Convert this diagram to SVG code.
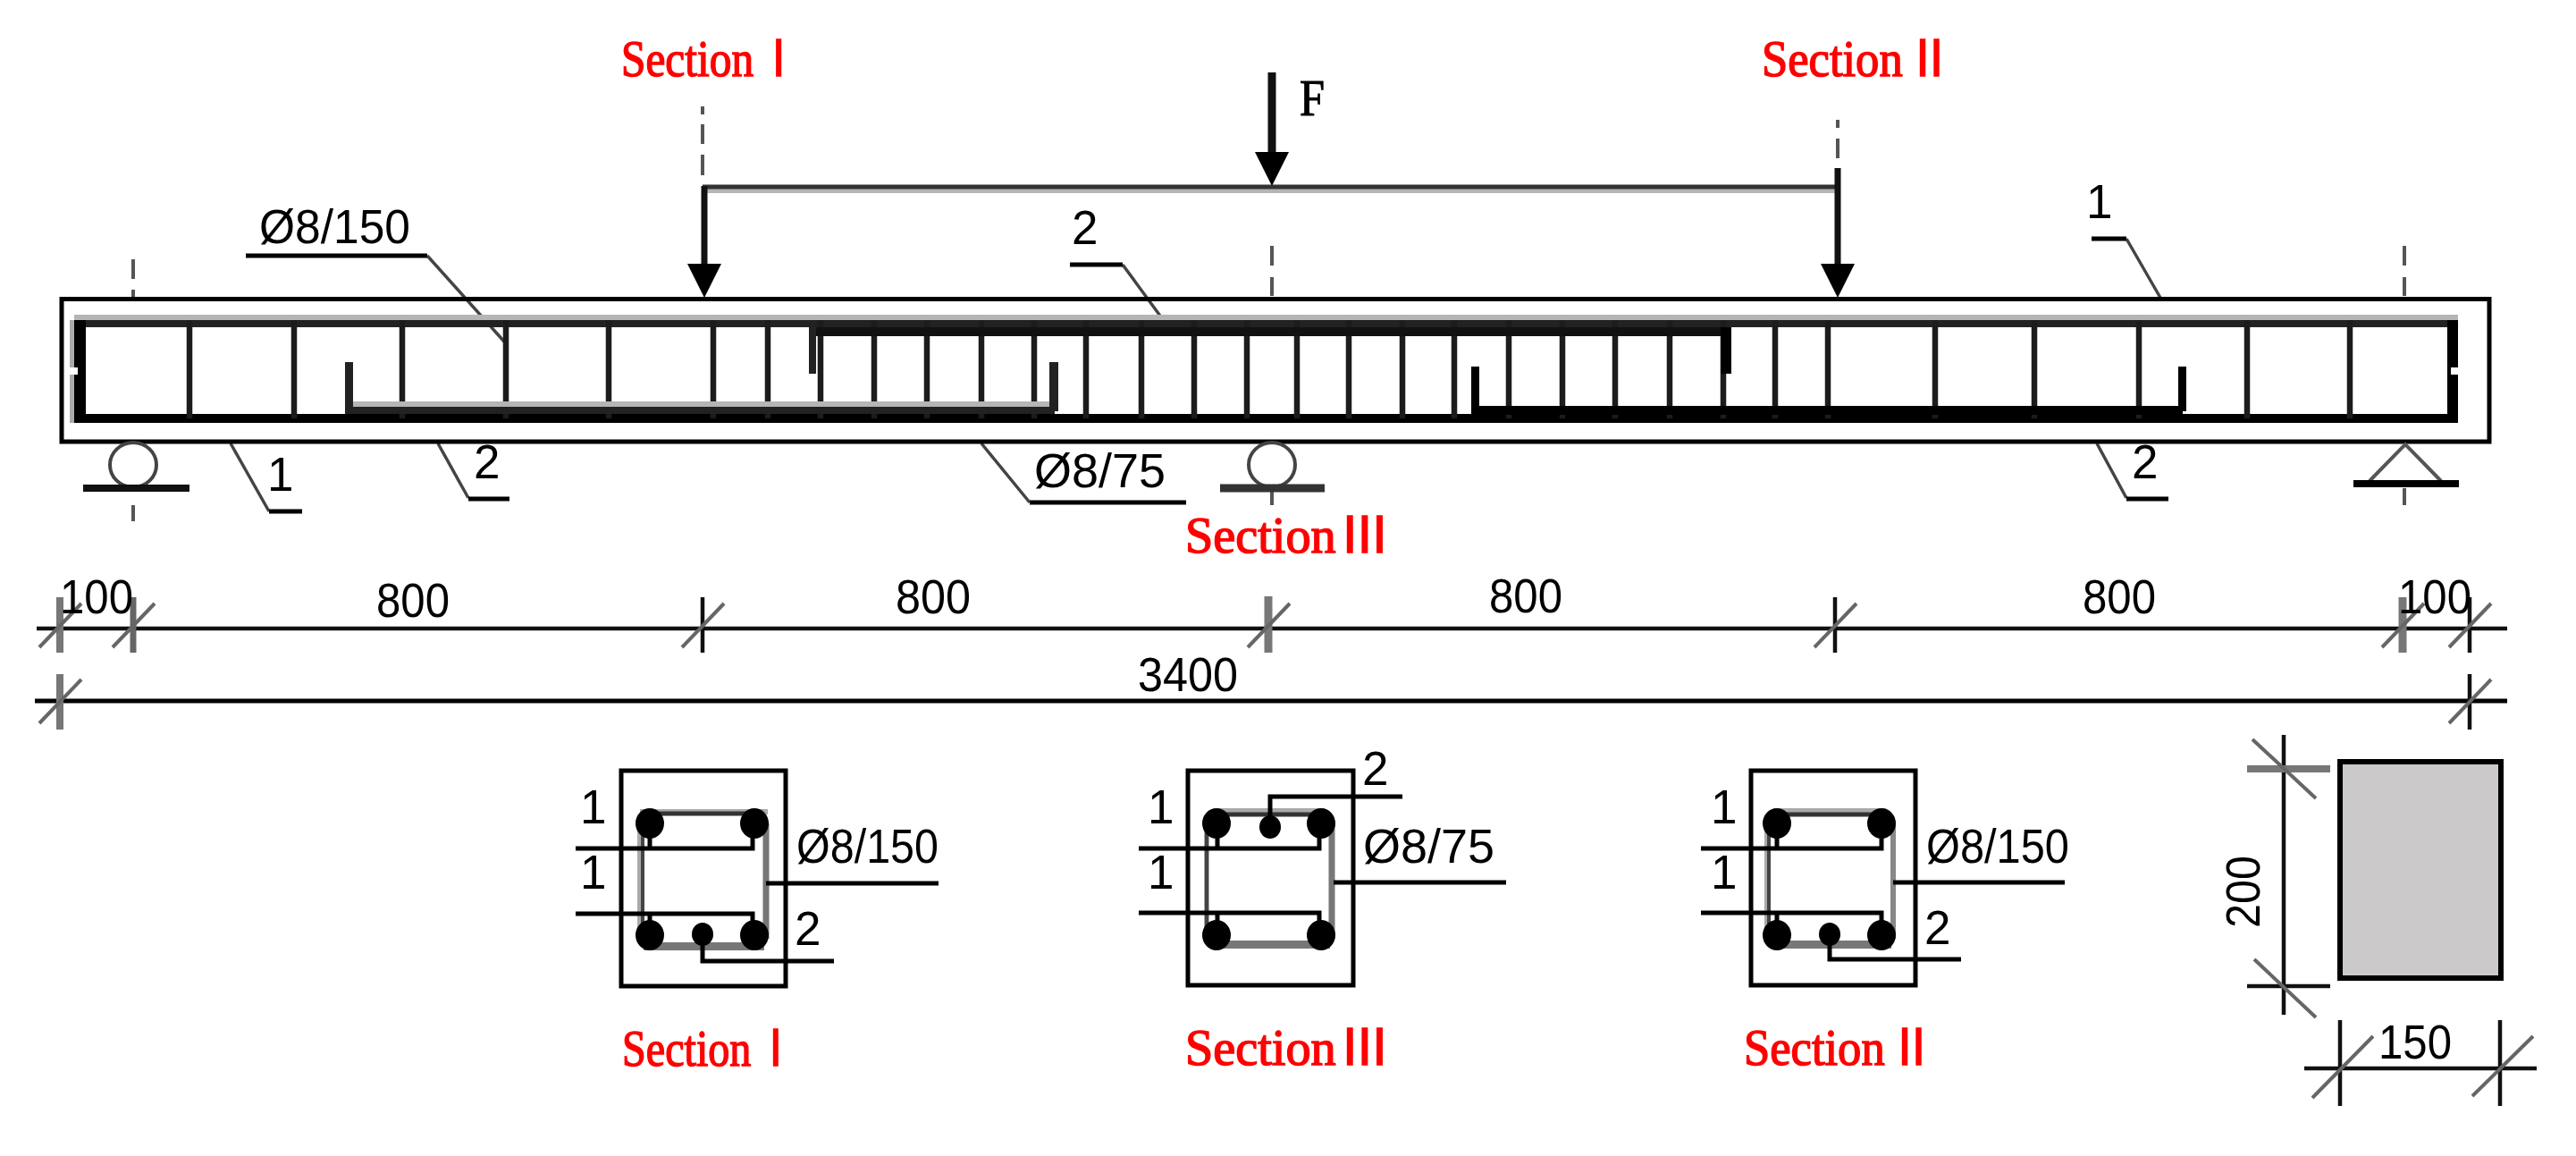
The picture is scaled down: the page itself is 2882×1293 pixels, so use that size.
<svg xmlns="http://www.w3.org/2000/svg" width="2882" height="1293" viewBox="0 0 2882 1293">
<style>
.bg{fill:#fff}
.l{fill:none;stroke:#000;stroke-width:5}
.thin{fill:none;stroke:#444;stroke-width:3.5}
.tick{fill:none;stroke:#111;stroke-width:4.5}
.slash{fill:none;stroke:#666;stroke-width:4}
.dash{fill:none;stroke:#555;stroke-width:4}
.gray{fill:none;stroke:#aaa;stroke-width:6}
.dot{fill:#000}
.t{font-family:"Liberation Sans",Arial,sans-serif;font-size:53px;fill:#000}
.s{font-family:"Liberation Serif","Noto Sans CJK SC",serif;font-size:56px;fill:#f00;stroke:#f00;stroke-width:1.5px;word-spacing:-10px}
.f{font-family:"Liberation Serif",serif;font-size:56px;fill:#000;stroke:#000;stroke-width:1px}
</style>
<defs>
<g id="head"><path d="M-19 -38H19L0 0Z" fill="#000"/></g>
<g id="slash"><path class="slash" d="M-23 23L24 -26"/></g>
</defs>
<rect class="bg" width="2882" height="1293"/>

<g id="connectors">
<path class="dash" d="M786 119V128M786 139V161M786 173V196M2056 134V143M2056 155V177M149 290V312M149 324V332M149 565V583M1423 275V297M1423 310V331M2690 275V297M2690 310V331M2690 546V565M1423 550V565"/>
<path d="M786 213H2056" fill="none" stroke="#b5b5b5" stroke-width="6"/>
<path d="M786 209H2056" fill="none" stroke="#333" stroke-width="5"/>
<path d="M788 208V300M2056 188V300" fill="none" stroke="#111" stroke-width="7"/>
<path d="M1423 81V175" fill="none" stroke="#111" stroke-width="9"/>
<use href="#head" x="788" y="333"/>
<use href="#head" x="2056" y="333"/>
<use href="#head" x="1423" y="208"/>
<path class="thin" d="M478 286L564 382M1256 296L1300 356M2379 267L2417 333M258 496L301 572M490 496L524 557M1098 496L1152 562M2346 496L2379 557"/>
<path class="l" d="M275 286H478M1197 296H1256M2340 267H2379M301 572H338M524 558H570M1152 562H1327M2379 558H2426"/>
</g>

<g id="beam">
<rect x="69" y="334.500" width="2716" height="159.500" fill="none" stroke="#000" stroke-width="5"/>
<rect x="83" y="352" width="2667" height="6" fill="#b5b5b5"/>
<rect x="83" y="358" width="2667" height="8" fill="#222"/>
<rect x="83" y="463" width="2667" height="10" fill="#000"/>
<rect x="78" y="358" width="5" height="115" fill="#aaa"/>
<rect x="83" y="358" width="13" height="115" fill="#000"/>
<rect x="78" y="411" width="9" height="8" fill="#fff"/>
<rect x="2738" y="358" width="12" height="115" fill="#000"/>
<rect x="2742" y="411" width="8" height="8" fill="#fff"/>
<path d="M212 358V468M329 358V468M450 358V468M566 358V468M681 358V468M798 358V468M859 358V468M918 358V468M978 358V468M1037 358V468M1098 358V468M1157 358V468M1215 358V468M1277 358V468M1336 358V468M1395 358V468M1451 358V468M1509 358V468M1569 358V468M1627 358V468M1688 358V468M1748 358V468M1807 358V468M1868 358V468M1928 358V468M1986 358V468M2045 358V468M2165 358V468M2276 358V468M2393 358V468M2514 358V468M2629 358V468" fill="none" stroke="#1c1c1c" stroke-width="6.500"/>
<rect x="905" y="366" width="1026" height="10" fill="#111"/>
<rect x="905" y="366" width="8" height="52" fill="#222"/>
<rect x="1925" y="366" width="12" height="52" fill="#000"/>
<rect x="386" y="449" width="794" height="6" fill="#b5b5b5"/>
<rect x="386" y="455" width="794" height="8" fill="#222"/>
<rect x="386" y="405" width="9" height="55" fill="#222"/>
<rect x="1174" y="405" width="10" height="55" fill="#222"/>
<rect x="1646" y="454" width="796" height="10" fill="#000"/>
<rect x="1646" y="410" width="9" height="50" fill="#000"/>
<rect x="2437" y="410" width="9" height="50" fill="#000"/>
</g>

<g id="support-left">
<ellipse cx="149" cy="520" rx="26" ry="25" fill="none" stroke="#444" stroke-width="4"/>
<path d="M93 546H212" fill="none" stroke="#111" stroke-width="8"/>
</g>
<g id="support-center">
<ellipse cx="1423" cy="520" rx="26" ry="25" fill="none" stroke="#444" stroke-width="4"/>
<path d="M1365 546H1482" fill="none" stroke="#333" stroke-width="9"/>
</g>
<g id="support-right">
<path d="M2651 538L2691 497L2731 538" fill="none" stroke="#555" stroke-width="4"/>
<path d="M2633 541H2751" fill="none" stroke="#000" stroke-width="8"/>
</g>

<g id="dim-lines">
<path d="M41 703H2805" class="tick"/>
<path d="M39 784H2805" class="l"/>
<path d="M67 668V730" fill="none" stroke="#777" stroke-width="8"/>
<path d="M149 668V730" fill="none" stroke="#666" stroke-width="7"/>
<path d="M786 668V730M2053 668V730M2763 668V730M2763 754V816" class="tick"/>
<path d="M2688 668V730M1419 667V730" fill="none" stroke="#777" stroke-width="9"/>
<path d="M67 754V816" fill="none" stroke="#777" stroke-width="8"/>
<use href="#slash" x="67" y="701"/><use href="#slash" x="149" y="701"/><use href="#slash" x="786" y="701"/><use href="#slash" x="1419" y="701"/><use href="#slash" x="2053" y="701"/><use href="#slash" x="2688" y="701"/><use href="#slash" x="2763" y="701"/><use href="#slash" x="67" y="786"/><use href="#slash" x="2763" y="786"/>
</g>

<g id="labels">
<text class="s" x="695" y="85" textLength="201" lengthAdjust="spacingAndGlyphs">Section Ⅰ</text>
<text class="s" x="1971" y="85" textLength="214" lengthAdjust="spacingAndGlyphs">Section Ⅱ</text>
<text class="s" x="1326" y="618" textLength="229" lengthAdjust="spacingAndGlyphs">Section Ⅲ</text>
<text class="f" x="1454" y="129" textLength="28" lengthAdjust="spacingAndGlyphs">F</text>
<text class="t" x="290" y="272" textLength="169" lengthAdjust="spacingAndGlyphs">Ø8/150</text>
<text class="t" x="1199" y="273">2</text>
<text class="t" x="2334" y="244">1</text>
<text class="t" x="299" y="549">1</text>
<text class="t" x="530" y="535">2</text>
<text class="t" x="1157" y="545" textLength="147" lengthAdjust="spacingAndGlyphs">Ø8/75</text>
<text class="t" x="2385" y="535">2</text>
<text class="t" x="67" y="686" textLength="82" lengthAdjust="spacingAndGlyphs">100</text>
<text class="t" x="421" y="690" textLength="82" lengthAdjust="spacingAndGlyphs">800</text>
<text class="t" x="1002" y="686" textLength="84" lengthAdjust="spacingAndGlyphs">800</text>
<text class="t" x="1666" y="685" textLength="82" lengthAdjust="spacingAndGlyphs">800</text>
<text class="t" x="2330" y="686" textLength="82" lengthAdjust="spacingAndGlyphs">800</text>
<text class="t" x="2683" y="686" textLength="82" lengthAdjust="spacingAndGlyphs">100</text>
<text class="t" x="1273" y="773" textLength="112" lengthAdjust="spacingAndGlyphs">3400</text>
</g>

<g id="section-1">
<rect x="695" y="862" width="184" height="241" fill="none" stroke="#000" stroke-width="5"/>
<path class="gray" d="M716 908H859" /><path d="M727 910H845" fill="none" stroke="#333" stroke-width="5"/>
<path d="M716 921V1050" class="gray"/><path d="M719 921V1050" fill="none" stroke="#444" stroke-width="4"/>
<path d="M857 921V1050" fill="none" stroke="#777" stroke-width="7"/>
<rect x="720" y="1054" width="135" height="9" fill="#777"/>
<ellipse class="dot" cx="727" cy="921" rx="16" ry="17"/><ellipse class="dot" cx="844" cy="921" rx="16" ry="17"/>
<ellipse class="dot" cx="727" cy="1046" rx="16" ry="17"/><ellipse class="dot" cx="844" cy="1046" rx="16" ry="17"/>
<ellipse class="dot" cx="786" cy="1045" rx="12" ry="13"/>
<path class="l" d="M644 949H842V921M727 949V921M644 1022H842V1046M727 1022V1046M786 1045V1075H933M857 988H1050"/>
<text class="t" x="649" y="921">1</text><text class="t" x="649" y="994">1</text>
<text class="t" x="891" y="965" textLength="159" lengthAdjust="spacingAndGlyphs">Ø8/150</text>
<text class="t" x="889" y="1057">2</text>
<text class="s" x="696" y="1192" textLength="196" lengthAdjust="spacingAndGlyphs">Section Ⅰ</text>
</g>

<g id="section-3">
<rect x="1329" y="862" width="185" height="240" fill="none" stroke="#000" stroke-width="5"/>
<path class="gray" d="M1358 907H1482"/><path d="M1362 911H1478" fill="none" stroke="#333" stroke-width="5"/>
<path d="M1350 921V1050" class="gray"/><path d="M1350 921V1050" fill="none" stroke="#444" stroke-width="4"/>
<path d="M1490 921V1050" fill="none" stroke="#777" stroke-width="7"/>
<rect x="1354" y="1052" width="134" height="9" fill="#777"/>
<ellipse class="dot" cx="1361" cy="921" rx="16" ry="17"/><ellipse class="dot" cx="1478" cy="921" rx="16" ry="17"/>
<ellipse class="dot" cx="1361" cy="1046" rx="16" ry="17"/><ellipse class="dot" cx="1478" cy="1046" rx="16" ry="17"/>
<ellipse class="dot" cx="1421" cy="925" rx="12" ry="13"/>
<path class="l" d="M1274 949H1476V921M1362 949V921M1274 1021H1476V1046M1362 1021V1046M1421 925V891H1569M1492 987H1685"/>
<text class="t" x="1284" y="921">1</text><text class="t" x="1284" y="994">1</text>
<text class="t" x="1525" y="965" textLength="147" lengthAdjust="spacingAndGlyphs">Ø8/75</text>
<text class="t" x="1524" y="878">2</text>
<text class="s" x="1326" y="1191" textLength="229" lengthAdjust="spacingAndGlyphs">Section Ⅲ</text>
</g>

<g id="section-2">
<rect x="1959" y="862" width="184" height="240" fill="none" stroke="#000" stroke-width="5"/>
<path class="gray" d="M1984 907H2110"/><path d="M1988 911H2105" fill="none" stroke="#333" stroke-width="5"/>
<path d="M1977 921V1050" class="gray"/><path d="M1979 921V1050" fill="none" stroke="#444" stroke-width="4"/>
<path d="M2118 921V1050" fill="none" stroke="#888" stroke-width="6"/>
<rect x="1982" y="1052" width="134" height="9" fill="#777"/>
<ellipse class="dot" cx="1988" cy="921" rx="16" ry="17"/><ellipse class="dot" cx="2105" cy="921" rx="16" ry="17"/>
<ellipse class="dot" cx="1988" cy="1046" rx="16" ry="17"/><ellipse class="dot" cx="2105" cy="1046" rx="16" ry="17"/>
<ellipse class="dot" cx="2047" cy="1045" rx="12" ry="13"/>
<path class="l" d="M1903 949H2105V921M1988 949V921M1903 1021H2105V1046M1988 1021V1046M2047 1045V1073H2194M2118 987H2310"/>
<text class="t" x="1914" y="921">1</text><text class="t" x="1914" y="994">1</text>
<text class="t" x="2155" y="965" textLength="160" lengthAdjust="spacingAndGlyphs">Ø8/150</text>
<text class="t" x="2153" y="1056">2</text>
<text class="s" x="1951" y="1191" textLength="214" lengthAdjust="spacingAndGlyphs">Section Ⅱ</text>
</g>

<g id="elevation">
<rect x="2618" y="852" width="180" height="242" fill="#ccc9ca" stroke="#000" stroke-width="6"/>
<path class="tick" d="M2555 822V1135M2514 1103H2607M2618 1141V1237M2797 1141V1237M2578 1195H2838"/>
<path d="M2514 860H2607" fill="none" stroke="#777" stroke-width="8"/>
<path class="slash" d="M2520 827L2591 893M2522 1073L2591 1138M2587 1228L2655 1159M2766 1226L2834 1159"/>
<text class="t" x="2661" y="1184" textLength="82" lengthAdjust="spacingAndGlyphs">150</text>
<text class="t" transform="translate(2528 1038) rotate(-90)" x="0" y="0" textLength="81" lengthAdjust="spacingAndGlyphs">200</text>
</g>
</svg>
